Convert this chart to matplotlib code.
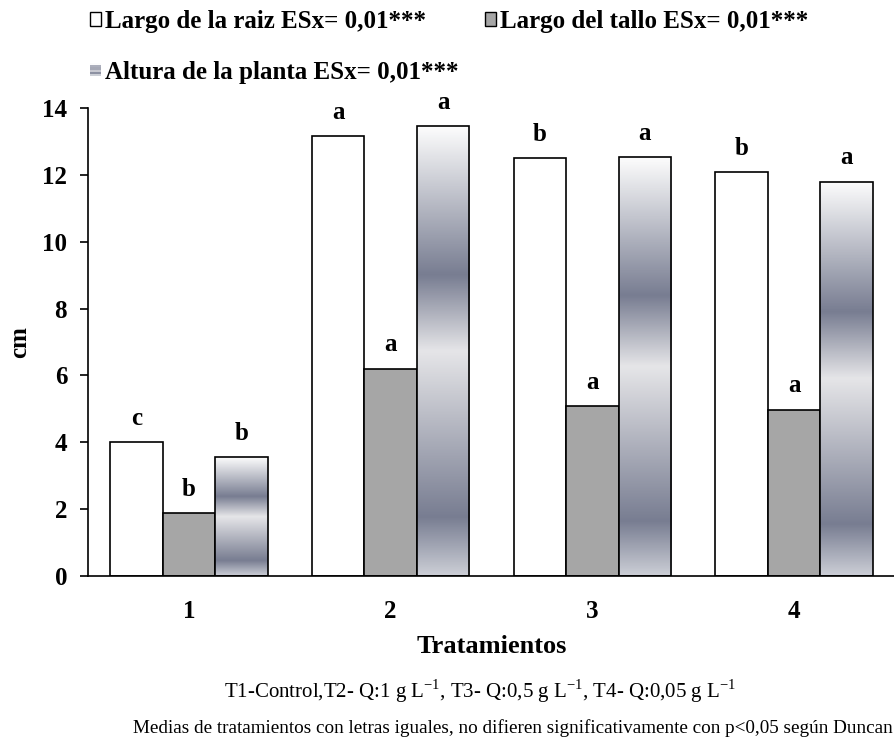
import numpy as np
import matplotlib.pyplot as plt
from matplotlib.colors import LinearSegmentedColormap
from matplotlib.legend_handler import HandlerBase
from matplotlib.patches import Rectangle

plt.rcParams['font.family'] = ['Liberation Serif', 'DejaVu Serif']
plt.rcParams['mathtext.fontset'] = 'custom'
plt.rcParams['mathtext.rm'] = 'Liberation Serif'

# Datos
tratamientos = ['1', '2', '3', '4']
largo_raiz = [4.0, 13.15, 12.5, 12.08]
largo_tallo = [1.88, 6.2, 5.08, 4.97]
altura_planta = [3.55, 13.45, 12.53, 11.8]
letras_raiz = ['c', 'a', 'b', 'b']
letras_tallo = ['b', 'a', 'a', 'a']
letras_altura = ['b', 'a', 'a', 'a']

etiquetas = ['Largo de la raiz ESx= 0,01***',
             'Largo del tallo ESx= 0,01***',
             'Altura de la planta ESx= 0,01***']

# degradado de las barras de altura (de abajo hacia arriba)
dark = (0.47, 0.49, 0.57)
cmap = LinearSegmentedColormap.from_list('metal', [
    (0.0, (0.80, 0.81, 0.84)),
    (0.13, dark),
    (0.5, (0.90, 0.90, 0.91)),
    (0.67, dark),
    (1.0, (0.99, 0.99, 0.99)),
])


class HandlerGradient(HandlerBase):
    def create_artists(self, legend, orig_handle, xdescent, ydescent,
                       width, height, fontsize, trans):
        arts = []
        n = 6
        for i in range(n):
            c = cmap(i / (n - 1))
            arts.append(Rectangle((-xdescent, -ydescent + i * height / n),
                                  width, height / n, facecolor=c,
                                  edgecolor='none', transform=trans))
        return arts


fig = plt.figure(figsize=(8.95, 7.42), dpi=100)
ax = fig.add_axes([0.0983, 0.2237, 0.9017, 0.6307])

x = np.arange(len(tratamientos))
w = 0.26
b1 = ax.bar(x - w, largo_raiz, w, color='white', edgecolor='black', linewidth=1.2)
b2 = ax.bar(x, largo_tallo, w, color='#a6a6a6', edgecolor='black', linewidth=1.2)
b3 = ax.bar(x + w, altura_planta, w, color='none', edgecolor='black',
            linewidth=1.2, zorder=3)

grad = np.linspace(0, 1, 256).reshape(-1, 1)
for bar in b3:
    x0, y0 = bar.get_x(), bar.get_y()
    im = ax.imshow(grad, cmap=cmap, origin='lower', aspect='auto',
                   extent=[x0, x0 + bar.get_width(), y0, y0 + bar.get_height()],
                   zorder=2)
    im.set_clip_path(bar)

for bars, letras in [(b1, letras_raiz), (b2, letras_tallo), (b3, letras_altura)]:
    for bar, l in zip(bars, letras):
        ax.annotate(l, (bar.get_x() + bar.get_width() / 2, bar.get_height()),
                    xytext=(0, 9), textcoords='offset points', ha='center',
                    va='bottom', fontsize=18, fontweight='bold')

ax.set_xlim(-0.5, 3.5)
ax.set_ylim(0, 14)
ax.set_yticks(range(0, 15, 2))
ax.set_xticks(x)
ax.set_xticklabels(tratamientos)
ax.spines['top'].set_visible(False)
ax.spines['right'].set_visible(False)
ax.spines['left'].set_linewidth(1.2)
ax.spines['bottom'].set_linewidth(1.2)
ax.tick_params(axis='y', length=6, width=1.2, labelsize=18, pad=9)
ax.tick_params(axis='x', length=0, labelsize=18, pad=17)
for lab in ax.get_xticklabels() + ax.get_yticklabels():
    lab.set_fontweight('bold')

ax.set_ylabel('cm', fontsize=18, fontweight='bold', labelpad=8)
ax.set_xlabel('Tratamientos', fontsize=19, fontweight='bold', labelpad=9)

# leyenda: dos filas
h1 = Rectangle((0, 0), 1, 1, facecolor='white', edgecolor='black', linewidth=1)
h2 = Rectangle((0, 0), 1, 1, facecolor='#a6a6a6', edgecolor='black', linewidth=1)
h3 = Rectangle((0, 0), 1, 1)
fig.legend([h1, h3, h2], [etiquetas[0], etiquetas[2], etiquetas[1]],
           handler_map={h3: HandlerGradient()},
           loc='upper left', bbox_to_anchor=(90 / 895, 1 - 10 / 742), ncol=2,
           frameon=False, prop={'weight': 'bold', 'size': 18},
           handlelength=0.45, handleheight=0.45, handletextpad=0.15,
           labelspacing=1.1, columnspacing=1.05, borderaxespad=0, borderpad=0)

fig.text(0.536, 0.068,
         r'T1-Control,T2- Q:1 g L$^{\mathregular{-1}}$, T3- Q:0,5 g L$^{\mathregular{-1}}$, '
         r'T4- Q:0,05 g L$^{\mathregular{-1}}$',
         ha='center', va='center', fontsize=15)
fig.text(0.998, 0.019,
         'Medias de tratamientos con letras iguales, no difieren significativamente '
         'con p<0,05 según Duncan',
         ha='right', va='center', fontsize=13.8)

fig.savefig('out.png', dpi=100)
